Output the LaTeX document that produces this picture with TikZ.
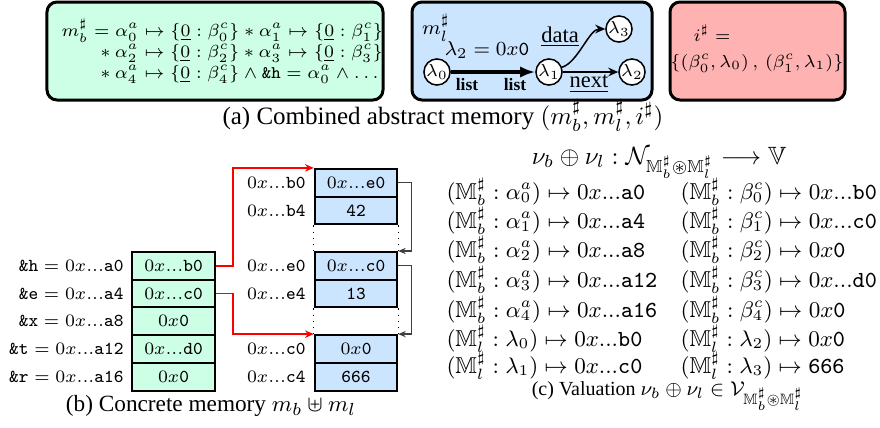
\documentclass[tikz,border=0pt]{standalone}
\usepackage{amsmath,amssymb}
\usepackage[no-math]{fontspec}
\setmainfont{Liberation Serif}
\usetikzlibrary{arrows.meta,calc}

\definecolor{cgreen}{RGB}{204,255,229}
\definecolor{cblue}{RGB}{204,229,255}
\definecolor{cred}{RGB}{255,178,178}

\newcommand{\addr}[1]{0x...\texttt{#1}}
\newcommand{\nullv}{0x\texttt{0}}
\newcommand{\Mb}{\mathbb{M}^\sharp_b}
\newcommand{\Ml}{\mathbb{M}^\sharp_l}

\begin{document}
\begin{tikzpicture}[x=0.4pt,y=-0.4pt,
  topbox/.style={draw, line width=1.2pt, rounded corners=4pt, minimum height=39.2pt, inner sep=0pt},
  memcell/.style={draw, line width=0.8pt, minimum width=33pt, minimum height=11.08pt, inner sep=0pt, font=\fontsize{7.3}{8}\selectfont},
  gcell/.style={memcell, fill=cgreen},
  bcell/.style={memcell, fill=cblue},
  addrlab/.style={anchor=east, font=\fontsize{7.3}{8}\selectfont, inner sep=0pt},
  lnode/.style={circle, draw, fill=white, line width=0.6pt, minimum size=10pt, inner sep=0pt, font=\scriptsize},
  captxt/.style={anchor=base, inner sep=0pt},
  valtxt/.style={anchor=base west, font=\fontsize{9.2}{11}\selectfont, inner sep=0pt},
  ptrarrow/.style={red, line width=0.6pt, -{Stealth[length=3.5pt,width=3pt]}},
  lnkarrow/.style={black!75, line width=0.5pt, -{Stealth[length=3pt,width=2.5pt]}}
]
\useasboundingbox (0,0) rectangle (880,427);

% ---------- (a) top boxes
\node[topbox, fill=cgreen, minimum width=134.4pt] (gbox) at (215,51) {};
\node[topbox, fill=cblue, minimum width=96pt] (bbox) at (532,51) {};
\node[topbox, fill=cred, minimum width=70pt] (rbox) at (757.5,51) {};

\node[anchor=west, align=left, inner sep=0pt, font=\fontsize{7.1}{8.4}\selectfont] (mb) at (61,51)
 {$m^\sharp_b = \alpha^a_0 \mapsto \{\underline{0} : \beta^c_0\} \ast \alpha^a_1 \mapsto \{\underline{0} : \beta^c_1\}$\\
  \hspace*{15.5pt}$\ast\ \alpha^a_2 \mapsto \{\underline{0} : \beta^c_2\} \ast \alpha^a_3 \mapsto \{\underline{0} : \beta^c_3\}$\\
  \hspace*{15.5pt}$\ast\ \alpha^a_4 \mapsto \{\underline{0} : \beta^c_4\} \wedge \texttt{\&h} = \alpha^a_0 \wedge \ldots$};

\node[font=\footnotesize, inner sep=0pt] (ml) at (436,28) {$m^\sharp_l$};
\node[font=\footnotesize, inner sep=0pt] (l2eq) at (487,50) {$\lambda_2 = \nullv$};
\node[lnode] (l0) at (437,72) {$\lambda_0$};
\node[lnode] (l1) at (549,72) {$\lambda_1$};
\node[lnode] (l3) at (619,29) {$\lambda_3$};
\node[lnode] (l2) at (632,72) {$\lambda_2$};
\draw[line width=1.6pt, -{Latex[length=6pt,width=4.5pt]}] (l0) -- (l1);
\draw[line width=0.6pt, -{Stealth[length=4pt,width=3.5pt]}] (l1) -- (l2);
\draw[line width=0.6pt, -{Stealth[length=4pt,width=3.5pt]}] (l1.20) .. controls +(16,-5) and +(-16,0) .. (l3.west);
\node[font=\scriptsize\bfseries, inner sep=0pt] (lista) at (467,85) {list};
\node[font=\scriptsize\bfseries, inner sep=0pt] (listb) at (515,85) {list};
\node[font=\small, inner sep=0pt] (data) at (560,37) {\underline{data}};
\node[font=\small, inner sep=0pt] (next) at (589,84) {\underline{next}};

\node[font=\fontsize{7.4}{9}\selectfont, inner sep=0pt] (ieq) at (712,33) {$i^\sharp =$};
\node[font=\fontsize{7}{9}\selectfont, inner sep=0pt] (iset) at (757,63) {$\{(\beta^c_0, \lambda_0)\,,\,(\beta^c_1, \lambda_1)\}$};

\node[captxt, font=\normalsize] (capa) at (443,124) {(a) Combined abstract memory $(m^\sharp_b, m^\sharp_l, i^\sharp)$};

% ---------- (b) concrete memory
\node[gcell] (g0) at (173.5,265.85) {$\addr{b0}$};
\node[gcell] (g1) at (173.5,293.55) {$\addr{c0}$};
\node[gcell] (g2) at (173.5,321.25) {$\nullv$};
\node[gcell] (g3) at (173.5,348.95) {$\addr{d0}$};
\node[gcell] (g4) at (173.5,376.65) {$\nullv$};
\node[addrlab] (lg0) at (124,265.85) {$\texttt{\&h} = \addr{a0}$};
\node[addrlab] (lg1) at (124,293.55) {$\texttt{\&e} = \addr{a4}$};
\node[addrlab] (lg2) at (124,321.25) {$\texttt{\&x} = \addr{a8}$};
\node[addrlab] (lg3) at (124,348.95) {$\texttt{\&t} = \addr{a12}$};
\node[addrlab] (lg4) at (124,376.65) {$\texttt{\&r} = \addr{a16}$};

\node[bcell] (bb0) at (356,182.75) {$\addr{e0}$};
\node[bcell] (bb4) at (356,210.45) {\texttt{42}};
\node[bcell] (be0) at (356,265.85) {$\addr{c0}$};
\node[bcell] (be4) at (356,293.55) {\texttt{13}};
\node[bcell] (bc0) at (356,348.95) {$\nullv$};
\node[bcell] (bc4) at (356,376.65) {\texttt{666}};
\node[addrlab] (lb0) at (306,182.75) {$\addr{b0}$};
\node[addrlab] (lb4) at (306,210.45) {$\addr{b4}$};
\node[addrlab] (le0) at (306,265.85) {$\addr{e0}$};
\node[addrlab] (le4) at (306,293.55) {$\addr{e4}$};
\node[addrlab] (lc0) at (306,348.95) {$\addr{c0}$};
\node[addrlab] (lc4) at (306,376.65) {$\addr{c4}$};

\draw[dotted, line width=0.5pt] (bb4.south west) -- (be0.north west);
\draw[dotted, line width=0.5pt] (bb4.south east) -- (be0.north east);
\draw[dotted, line width=0.5pt] (be4.south west) -- (bc0.north west);
\draw[dotted, line width=0.5pt] (be4.south east) -- (bc0.north east);

\draw[ptrarrow] (g0.east) -- ++(17,0) |- (bb0.north west);
\draw[ptrarrow] (g1.east) -- ++(17,0) |- (bc0.north west);
\draw[lnkarrow] (bb0.east) -- ++(13,0) |- (be0.north east);
\draw[lnkarrow] (be0.east) -- ++(13,0) |- (bc0.north east);

\node[captxt, font=\fontsize{9.3}{11}\selectfont] (capb) at (211,411) {(b) Concrete memory $m_b \uplus m_l$};

% ---------- (c) valuation
\node[captxt, font=\normalsize] (hdr) at (659,164) {$\nu_b \oplus \nu_l : \mathcal{N}_{\Mb \circledast \Ml} \longrightarrow \mathbb{V}$};
\node[valtxt] (v1) at (446,199) {$(\Mb : \alpha^a_0) \mapsto \addr{a0}$};
\node[valtxt] (v2) at (446,228) {$(\Mb : \alpha^a_1) \mapsto \addr{a4}$};
\node[valtxt] (v3) at (446,257) {$(\Mb : \alpha^a_2) \mapsto \addr{a8}$};
\node[valtxt] (v4) at (446,287) {$(\Mb : \alpha^a_3) \mapsto \addr{a12}$};
\node[valtxt] (v5) at (446,317) {$(\Mb : \alpha^a_4) \mapsto \addr{a16}$};
\node[valtxt] (v6) at (446,346) {$(\Ml : \lambda_0) \mapsto \addr{b0}$};
\node[valtxt] (v7) at (446,373) {$(\Ml : \lambda_1) \mapsto \addr{c0}$};
\node[valtxt] (w1) at (680,199) {$(\Mb : \beta^c_0) \mapsto \addr{b0}$};
\node[valtxt] (w2) at (680,228) {$(\Mb : \beta^c_1) \mapsto \addr{c0}$};
\node[valtxt] (w3) at (680,257) {$(\Mb : \beta^c_2) \mapsto \nullv$};
\node[valtxt] (w4) at (680,287) {$(\Mb : \beta^c_3) \mapsto \addr{d0}$};
\node[valtxt] (w5) at (680,317) {$(\Mb : \beta^c_4) \mapsto \nullv$};
\node[valtxt] (w6) at (680,346) {$(\Ml : \lambda_2) \mapsto \nullv$};
\node[valtxt] (w7) at (680,373) {$(\Ml : \lambda_3) \mapsto \texttt{666}$};
\node[captxt, font=\fontsize{8}{10}\selectfont] (capc) at (668,395) {(c) Valuation $\nu_b \oplus \nu_l \in \mathcal{V}_{\Mb \circledast \Ml}$};
\end{tikzpicture}
\end{document}
